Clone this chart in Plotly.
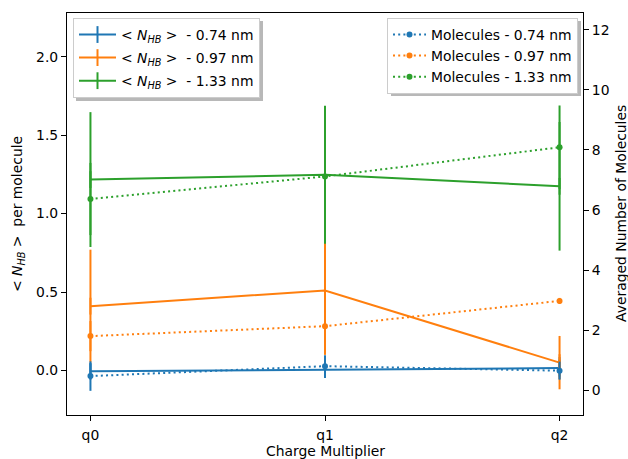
import plotly.graph_objects as go

# ---- data ----
x_pos = [0, 1, 2]
q_labels = ["q0", "q1", "q2"]

nhb_074 = [-0.005, 0.006, 0.015]
nhb_074_err = [0.05, 0.05, 0.07]
nhb_097 = [0.41, 0.51, 0.05]
nhb_097_err = [0.36, 0.41, 0.17]
nhb_133 = [1.217, 1.248, 1.174]
nhb_133_err = [0.43, 0.44, 0.41]

mol_074 = [0.48, 0.81, 0.66]
mol_074_err = [0.49, 0.36, 0.30]
mol_097 = [1.81, 2.14, 2.98]
mol_097_err = [0.50, 0.94, 0.10]
mol_133 = [6.37, 7.12, 8.09]
mol_133_err = [1.20, 1.50, 1.39]

sizes = ["0.74", "0.97", "1.33"]
colors = ["#1f77b4", "#ff7f0e", "#2ca02c"]

W, H = 628, 459
L, R, T, B = 67, 45, 13, 44
pw, ph = W - L - R, H - T - B
FONT = "DejaVu Sans"
FS = 13.9


def px2paper(px, py):
    return (px - L) / pw, (H - B - py) / ph


fig = go.Figure()

nhb_series = [(nhb_074, nhb_074_err), (nhb_097, nhb_097_err), (nhb_133, nhb_133_err)]
mol_series = [(mol_074, mol_074_err), (mol_097, mol_097_err), (mol_133, mol_133_err)]

for i, (vals, errs) in enumerate(nhb_series):
    fig.add_trace(go.Scatter(
        x=x_pos, y=vals, mode="lines+markers",
        line=dict(color=colors[i], width=2),
        marker=dict(symbol="line-ns-open", size=12, line=dict(color=colors[i], width=2), color=colors[i]),
        error_y=dict(type="data", array=errs, visible=True, color=colors[i], thickness=2, width=0),
        name="&lt; <i>N<sub>HB</sub></i> &gt;  - " + sizes[i] + " nm",
        legend="legend", legendgroup="a" + str(i), yaxis="y",
    ))

for i, (vals, errs) in enumerate(mol_series):
    fig.add_trace(go.Scatter(
        x=x_pos, y=vals, mode="lines+markers",
        line=dict(color=colors[i], width=2, dash="2px,3.2px"),
        marker=dict(symbol="circle", size=6, color=colors[i]),
        error_y=dict(type="data", array=errs, visible=True, color=colors[i], thickness=2, width=0),
        name="Molecules - " + sizes[i] + " nm",
        legend="legend2", legendgroup="b" + str(i), yaxis="y2",
    ))

axis_common = dict(showgrid=False, zeroline=False, showline=True, linecolor="black", linewidth=1.1,
                   ticks="outside", ticklen=5, tickwidth=1.1, tickcolor="black",
                   tickfont=dict(family=FONT, size=FS, color="black"))

fig.update_layout(
    width=W, height=H,
    margin=dict(l=L, r=R, t=T, b=B),
    paper_bgcolor="white", plot_bgcolor="white",
    font=dict(family=FONT, size=FS, color="black"),
    xaxis=dict(range=[-0.1, 2.1], tickvals=x_pos, ticktext=q_labels, mirror=True,
               ticklabelstandoff=2, **axis_common),
    yaxis=dict(range=[-0.284, 2.279], tickvals=[0, 0.5, 1.0, 1.5, 2.0], tickformat=".1f", **axis_common),
    yaxis2=dict(range=[-0.814, 12.556], tickvals=[0, 2, 4, 6, 8, 10, 12], overlaying="y", side="right",
                **axis_common),
    legend=dict(x=px2paper(73, 0)[0], y=px2paper(0, 18)[1], xanchor="left", yanchor="top",
                bgcolor="white", bordercolor="#cccccc", borderwidth=1, itemwidth=37,
                font=dict(family=FONT, size=FS, color="black"),
                traceorder="grouped", tracegroupgap=2),
    legend2=dict(x=px2paper(578, 0)[0], y=px2paper(0, 18)[1], xanchor="right", yanchor="top",
                 bgcolor="white", bordercolor="#cccccc", borderwidth=1, itemwidth=33,
                 font=dict(family=FONT, size=FS, color="black"),
                 traceorder="grouped", tracegroupgap=0),
    showlegend=True,
)

# axis titles as annotations
ax_, ay_ = px2paper(18, 214)
fig.add_annotation(x=ax_, y=ay_, xref="paper", yref="paper", showarrow=False, textangle=-90,
                   xanchor="center", yanchor="middle",
                   text="&lt; <i>N<sub>HB</sub></i> &gt;  per molecule",
                   font=dict(family=FONT, size=FS, color="black"))
bx_, by_ = px2paper(621, 214)
fig.add_annotation(x=bx_, y=by_, xref="paper", yref="paper", showarrow=False, textangle=-90,
                   xanchor="center", yanchor="middle",
                   text="Averaged Number of Molecules", font=dict(family=FONT, size=FS, color="black"))
cx_, cy_ = px2paper(325, 451)
fig.add_annotation(x=cx_, y=cy_, xref="paper", yref="paper", showarrow=False,
                   xanchor="center", yanchor="middle",
                   text="Charge Multiplier", font=dict(family=FONT, size=FS, color="black"))

# legend shadows
for (x0, y0, x1, y1) in [(76, 21, 263, 101), (391, 21, 581, 96)]:
    a0, b0 = px2paper(x0, y1)
    a1, b1 = px2paper(x1, y0)
    fig.add_shape(type="rect", xref="paper", yref="paper", x0=a0, y0=b0, x1=a1, y1=b1,
                  fillcolor="#b8b8b8", line=dict(width=0), layer="above")

fig.write_html("out.html")
